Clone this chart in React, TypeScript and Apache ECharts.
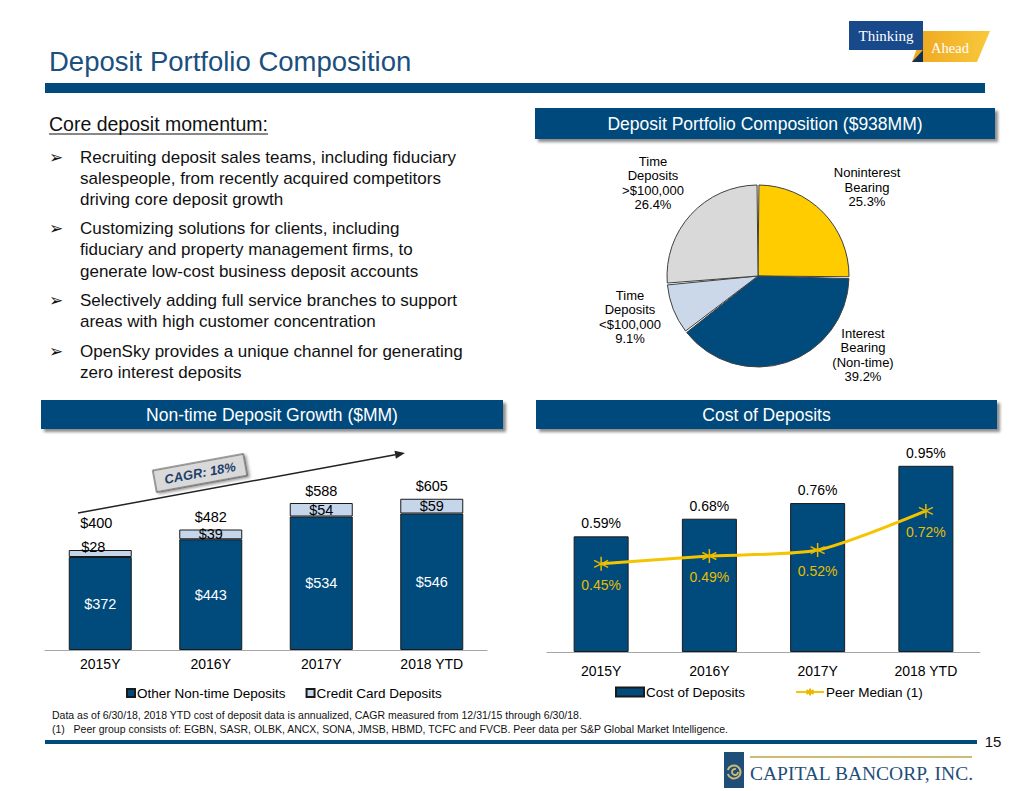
import React, { useEffect, useRef } from "react";
import * as echarts from "echarts";

const categories = ["2015Y", "2016Y", "2017Y", "2018 YTD"];
const otherNonTime = [372, 443, 534, 546];
const creditCard = [28, 39, 54, 59];
const nonTimeTotals = [400, 482, 588, 605];
const costOfDeposits = [0.59, 0.68, 0.76, 0.95];
const peerMedian = [0.45, 0.49, 0.52, 0.72];
const pieNames = [
  "Noninterest\nBearing",
  "Interest\nBearing\n(Non-time)",
  "Time\nDeposits\n<$100,000",
  "Time\nDeposits\n>$100,000",
];
const pieValues = [25.3, 39.2, 9.1, 26.4];

const bullets = [
  ["Recruiting deposit sales teams, including fiduciary", "salespeople, from recently acquired competitors", "driving core deposit growth"],
  ["Customizing solutions for clients, including", "fiduciary and property management firms, to", "generate low-cost business deposit accounts"],
  ["Selectively adding full service branches to support", "areas with high customer concentration"],
  ["OpenSky provides a unique channel for generating", "zero interest deposits"],
];
const footnotes = [
  "Data as of 6/30/18, 2018 YTD cost of deposit data is annualized, CAGR measured from 12/31/15 through 6/30/18.",
  "(1)   Peer group consists of: EGBN, SASR, OLBK, ANCX, SONA, JMSB, HBMD, TCFC and FVCB. Peer data per S&P Global Market Intelligence.",
];

const NAVY = "#004a7c";
const FONT = "'Liberation Sans', Arial, Helvetica, sans-serif";
const NARROW = "'Liberation Sans Narrow', 'Arial Narrow', 'Liberation Sans', sans-serif";
const SERIF = "'Liberation Serif', 'Times New Roman', serif";

function txt(x: number, y: number, text: string, s: any = {}) {
  return {
    type: "text",
    x,
    y,
    silent: true,
    style: {
      text,
      fontSize: 17,
      fontFamily: FONT,
      fill: "#000",
      align: "left",
      verticalAlign: "middle",
      textAlign: s.align || "left",
      textVerticalAlign: "middle",
      ...s,
    },
  };
}

function headerBox(x: number, y: number, w: number, h: number, label: string) {
  return [
    {
      type: "rect",
      silent: true,
      shape: { x, y, width: w, height: h },
      style: {
        fill: NAVY,
        shadowBlur: 3,
        shadowOffsetX: 3,
        shadowOffsetY: 3,
        shadowColor: "rgba(0,0,0,0.45)",
      },
    },
    txt(x + w / 2, y + h / 2, label, { fill: "#fff", fontSize: 17.5, align: "center" }),
  ];
}

function buildGraphics() {
  const g: any[] = [];
  // title
  g.push(txt(49, 61, "Deposit Portfolio Composition", { fontSize: 27.5, fill: "#1b4f7e" }));
  g.push({ type: "rect", silent: true, shape: { x: 45, y: 83, width: 940, height: 10 }, style: { fill: NAVY } });
  // Thinking Ahead logo
  g.push({
    type: "polygon",
    silent: true,
    shape: { points: [[923, 31], [990, 31], [977, 62], [912, 62]] },
    style: {
      fill: new echarts.graphic.LinearGradient(0, 0, 1, 0, [
        { offset: 0, color: "#eea620" },
        { offset: 1, color: "#f8c93c" },
      ]),
    },
  });
  g.push({ type: "polygon", silent: true, shape: { points: [[912, 62], [923, 50], [923, 62]] }, style: { fill: "#0d2f5a" } });
  g.push({ type: "rect", silent: true, shape: { x: 849, y: 21, width: 74, height: 29 }, style: { fill: "#17498b" } });
  g.push(txt(886, 36, "Thinking", { fontFamily: SERIF, fontSize: 15, fill: "#fff", align: "center" }));
  g.push(txt(950, 48, "Ahead", { fontFamily: SERIF, fontSize: 14.5, fill: "#fff", align: "center" }));

  // left text
  g.push(txt(49, 124, "Core deposit momentum:", { fontSize: 19.5, fill: "#111" }));
  g.push({ type: "line", silent: true, shape: { x1: 49, y1: 134, x2: 268, y2: 134 }, style: { stroke: "#111", lineWidth: 1 } });
  const lineYs = [[157, 178, 199], [228, 249, 271], [300, 321], [351, 372]];
  bullets.forEach((para, pi) => {
    g.push(txt(49, lineYs[pi][0], "\u27A2", { fontSize: 17, fontFamily: "'DejaVu Sans', sans-serif", fill: "#111" }));
    para.forEach((line, li) => {
      g.push(txt(80, lineYs[pi][li], line, { fontSize: 17, fill: "#111" }));
    });
  });

  // header boxes
  g.push(...headerBox(535, 108, 460, 31, "Deposit Portfolio Composition ($938MM)"));
  g.push(...headerBox(41, 400, 462, 29, "Non-time Deposit Growth ($MM)"));
  g.push(...headerBox(536, 400, 461, 29, "Cost of Deposits"));

  // CAGR arrow
  const x1 = 78, y1 = 513, x2 = 405, y2 = 453;
  const len = Math.hypot(x2 - x1, y2 - y1);
  const ux = (x2 - x1) / len, uy = (y2 - y1) / len;
  const bx = x2 - ux * 10, by = y2 - uy * 10;
  g.push({ type: "line", silent: true, shape: { x1, y1, x2: bx, y2: by }, style: { stroke: "#222", lineWidth: 1.5 } });
  g.push({
    type: "polygon",
    silent: true,
    shape: { points: [[x2, y2], [bx - uy * 4, by + ux * 4], [bx + uy * 4, by - ux * 4]] },
    style: { fill: "#222" },
  });
  g.push({
    type: "group",
    x: 200,
    y: 473,
    rotation: Math.atan2(y1 - y2, x2 - x1),
    silent: true,
    children: [
      {
        type: "rect",
        shape: { x: -46, y: -11, width: 92, height: 22 },
        style: {
          fill: "#d9d9d9",
          stroke: "#444",
          lineWidth: 1,
          shadowBlur: 3,
          shadowOffsetX: 2,
          shadowOffsetY: 2,
          shadowColor: "rgba(0,0,0,0.4)",
        },
      },
      txt(0, 0, "CAGR: 18%", { fontSize: 13, fontWeight: "bold", fontStyle: "italic", fill: "#1f3f6b", align: "center" }),
    ],
  });

  // footnotes
  g.push(txt(52, 715, footnotes[0], { fontFamily: NARROW, fontSize: 10.5, fill: "#111" }));
  g.push(txt(52, 729, footnotes[1], { fontFamily: NARROW, fontSize: 10.5, fill: "#111" }));

  // footer
  g.push({ type: "rect", silent: true, shape: { x: 45, y: 740, width: 932, height: 4 }, style: { fill: NAVY } });
  g.push(txt(993, 741, "15", { fontSize: 15, fill: "#111", align: "center" }));
  g.push({ type: "rect", silent: true, shape: { x: 750, y: 756, width: 222, height: 2 }, style: { fill: "#cdbb72" } });
  g.push({ type: "rect", silent: true, shape: { x: 724, y: 752, width: 20, height: 36 }, style: { fill: "#1f4e79" } });
  g.push({
    type: "arc",
    silent: true,
    shape: { cx: 734, cy: 772, r: 6.5, startAngle: -Math.PI * 0.9, endAngle: Math.PI * 0.9 },
    style: { stroke: "#cdbb72", lineWidth: 2, fill: "none" },
  });
  g.push({
    type: "arc",
    silent: true,
    shape: { cx: 735, cy: 772, r: 3, startAngle: 0, endAngle: Math.PI * 1.6 },
    style: { stroke: "#cdbb72", lineWidth: 1.8, fill: "none" },
  });
  g.push(txt(750, 773, "CAPITAL BANCORP, INC.", { fontFamily: SERIF, fontSize: 19.5, fill: "#1f4e79" }));
  return g;
}

const pieLabelPos = [
  [867, 187],
  [863, 355],
  [630, 317],
  [653, 183],
];

const asterisk = "path://M0,-10L0,10M-8.66,-5L8.66,5M-8.66,5L8.66,-5";

export default function App() {
  const ref = useRef<HTMLDivElement>(null);
  useEffect(() => {
    if (!ref.current) return;
    const chart = echarts.init(ref.current, undefined, { renderer: "svg" });
    const option: any = {
      animation: false,
      backgroundColor: "#fff",
      textStyle: { fontFamily: FONT },
      graphic: { elements: buildGraphics() },
      grid: [
        { left: 45, top: 450, width: 442, height: 200 },
        { left: 547, top: 456, width: 433, height: 196 },
      ],
      xAxis: [
        {
          type: "category",
          gridIndex: 0,
          data: categories,
          axisLine: { lineStyle: { color: "#a6a6a6" } },
          axisTick: { length: 5, lineStyle: { color: "#a6a6a6" } },
          axisLabel: { color: "#000", fontSize: 14, margin: 7, fontFamily: FONT },
        },
        {
          type: "category",
          gridIndex: 1,
          data: categories,
          axisLine: { lineStyle: { color: "#a6a6a6" } },
          axisTick: { length: 5, lineStyle: { color: "#a6a6a6" } },
          axisLabel: { color: "#000", fontSize: 14, margin: 12, fontFamily: FONT },
        },
      ],
      yAxis: [
        { type: "value", gridIndex: 0, min: 0, max: 800, show: false },
        { type: "value", gridIndex: 1, min: 0, max: 1, show: false },
      ],
      legend: [
        {
          data: ["Other Non-time Deposits", "Credit Card Deposits"],
          left: 121,
          top: 681,
          itemWidth: 8,
          itemHeight: 8,
          itemGap: 20,
          icon: "rect",
          textStyle: { color: "#000", fontSize: 13.5, fontFamily: FONT, padding: [0, 0, 0, -3] },
        },
        {
          data: [{ name: "Cost of Deposits", icon: "rect" }, { name: "Peer Median (1)" }],
          left: 610,
          top: 680,
          itemWidth: 28,
          itemHeight: 9,
          itemGap: 50,
          textStyle: { color: "#000", fontSize: 13.5, fontFamily: FONT, padding: [0, 0, 0, -3] },
        },
      ],
      series: [
        {
          name: "Other Non-time Deposits",
          type: "bar",
          xAxisIndex: 0,
          yAxisIndex: 0,
          stack: "nt",
          barWidth: 63,
          data: otherNonTime,
          itemStyle: { color: NAVY, borderColor: "#1a1a1a", borderWidth: 1 },
          label: { show: true, position: "inside", color: "#fff", fontSize: 14.5, formatter: "${c}" },
        },
        {
          name: "Credit Card Deposits",
          type: "bar",
          xAxisIndex: 0,
          yAxisIndex: 0,
          stack: "nt",
          barWidth: 63,
          data: creditCard.map((v, i) =>
            i === 0 ? { value: v, label: { offset: [-7, -7] } } : v
          ),
          itemStyle: { color: "#c6d6ea", borderColor: "#1a1a1a", borderWidth: 1 },
          label: { show: true, position: "inside", color: "#000", fontSize: 14.5, formatter: "${c}" },
        },
        {
          name: "Total",
          type: "bar",
          xAxisIndex: 0,
          yAxisIndex: 0,
          barWidth: 63,
          barGap: "-100%",
          z: 1,
          silent: true,
          data: nonTimeTotals.map((v, i) =>
            i === 0 ? { value: v, label: { offset: [-4, -15] } } : v
          ),
          itemStyle: { color: "rgba(0,0,0,0)" },
          label: { show: true, position: "top", distance: 5, color: "#000", fontSize: 14.5, formatter: "${c}" },
        },
        {
          name: "Cost of Deposits",
          type: "bar",
          xAxisIndex: 1,
          yAxisIndex: 1,
          barWidth: 55,
          data: costOfDeposits,
          itemStyle: { color: NAVY, borderColor: "#1a1a1a", borderWidth: 1 },
          label: { show: true, position: "top", distance: 6, color: "#000", fontSize: 14, formatter: (p: any) => p.value.toFixed(2) + "%" },
        },
        {
          name: "Peer Median (1)",
          type: "line",
          xAxisIndex: 1,
          yAxisIndex: 1,
          data: peerMedian,
          smooth: 0.25,
          symbol: asterisk,
          symbolSize: 14,
          z: 5,
          lineStyle: { color: "#f5c400", width: 3 },
          itemStyle: { color: "#f5c400", borderColor: "#e8b800", borderWidth: 1.5 },
          label: { show: true, position: "bottom", distance: 6, color: "#e6bd00", fontSize: 14, formatter: (p: any) => p.value.toFixed(2) + "%" },
        },
        {
          name: "Deposit Portfolio",
          type: "pie",
          center: [758, 276],
          radius: 91,
          startAngle: 90,
          clockwise: true,
          padAngle: 1.2,
          data: pieNames.map((n, i) => ({ name: n, value: pieValues[i] })),
          color: ["#ffcc00", NAVY, "#cbd8ea", "#d9d9d9"],
          itemStyle: { borderColor: "#404040", borderWidth: 1 },
          labelLine: { show: false },
          label: {
            show: true,
            position: "outside",
            formatter: "{b}\n{c}%",
            fontSize: 13,
            lineHeight: 14.5,
            color: "#000",
            align: "center",
            fontFamily: FONT,
          },
          labelLayout: (params: any) => {
            const p = pieLabelPos[params.dataIndex];
            return { x: p[0], y: p[1], align: "center", verticalAlign: "middle" };
          },
          emphasis: { disabled: true },
        },
      ],
    };
    chart.setOption(option);
    return () => chart.dispose();
  }, []);
  return (
    <div
      ref={ref}
      style={{ position: "fixed", left: 0, top: 0, width: 1024, height: 791, background: "#fff" }}
    />
  );
}
